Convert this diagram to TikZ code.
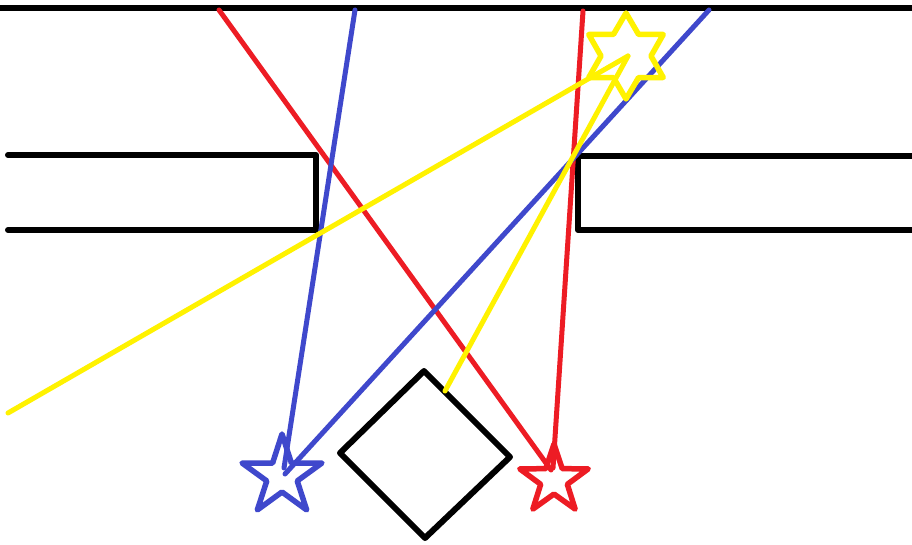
\documentclass[tikz,border=0pt]{standalone}
\definecolor{pblue}{HTML}{3F48CC}
\definecolor{pred}{HTML}{ED1C24}
\definecolor{pyellow}{HTML}{FFF200}
\begin{document}
\begin{tikzpicture}[x=1pt,y=-1pt,
  wall/.style={draw=black,line width=6pt,line cap=round,line join=round},
  ray/.style={line width=5pt,line cap=round,line join=round},
  starline/.style={line width=5.5pt,line join=round}]
\useasboundingbox[fill=white] (0,0) rectangle (912,545);
% walls
\coordinate (tl) at (0,8);
\coordinate (tr) at (912,8);
\draw[wall] (tl) -- (tr);
\coordinate (lw1) at (8,155);
\coordinate (lw2) at (316,155);
\coordinate (lw3) at (316,230);
\coordinate (lw4) at (8,230);
\draw[wall] (lw1) -- (lw2) -- (lw3) -- (lw4);
\coordinate (rw1) at (912,156);
\coordinate (rw2) at (578,156);
\coordinate (rw3) at (578,230);
\coordinate (rw4) at (912,230);
\draw[wall] (rw1) -- (rw2) -- (rw3) -- (rw4);
% diamond
\coordinate (dt) at (424,371);
\coordinate (dl) at (340,453);
\coordinate (db) at (425,538);
\coordinate (dr) at (510,457);
\draw[wall] (dt) -- (dr) -- (db) -- (dl) -- cycle;
% star centres
\coordinate (bs) at (282,476);
\coordinate (rs) at (554,480);
\coordinate (ys) at (626,56);
% red
\coordinate (r1) at (219,10);
\coordinate (r2) at (583,11);
\draw[ray,pred] (r1) -- (551,470);
\draw[ray,pred] (r2) -- (553,468);
\draw[starline,pred,shift={(rs)}] (-90:36) -- (-54:14) -- (-18:36) -- (18:14) -- (54:36) -- (90:14) -- (126:36) -- (162:14) -- (198:36) -- (234:14) -- cycle;
% blue
\coordinate (b1) at (355,10);
\coordinate (b2) at (709,10);
\draw[ray,pblue] (b1) -- (284,468);
\draw[ray,pblue] (b2) -- (285,474);
\draw[starline,pblue,shift={(bs)}] (-90:42) -- (-54:16) -- (-18:42) -- (18:16) -- (54:42) -- (90:16) -- (126:42) -- (162:16) -- (198:42) -- (234:16) -- cycle;
% yellow
\coordinate (y1) at (8,413);
\coordinate (y2) at (445,391);
\coordinate (yt) at (628,56);
\draw[ray,pyellow] (y1) -- (yt);
\draw[ray,pyellow] (y2) -- (yt);
\draw[starline,pyellow,shift={(ys)}] (-90:43) -- (-60:25) -- (-30:43) -- (0:25) -- (30:43) -- (60:25) -- (90:43) -- (120:25) -- (150:43) -- (180:25) -- (210:43) -- (240:25) -- cycle;
\end{tikzpicture}
\end{document}
